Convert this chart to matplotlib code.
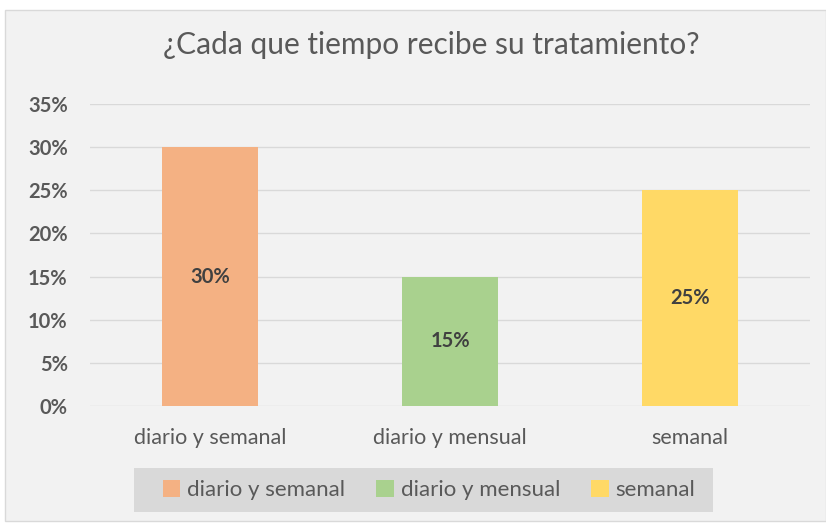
import matplotlib
matplotlib.use("Agg")
import matplotlib.pyplot as plt
from matplotlib.patches import Rectangle, Patch
from matplotlib.ticker import FuncFormatter

categories = ["diario y semanal", "diario y mensual", "semanal"]
values = [0.30, 0.15, 0.25]
colors = ["#F4B183", "#A9D18E", "#FFD966"]
yticks = [0, 0.05, 0.10, 0.15, 0.20, 0.25, 0.30, 0.35]
title = "¿Cada que tiempo recibe su tratamiento?"

plt.rcParams['font.family'] = ['Lato', 'DejaVu Sans']

W, H = 826, 523
fig = plt.figure(figsize=(W/100, H/100), dpi=100)
fig.patch.set_facecolor("white")
bg = Rectangle((5/W, 2/H), (W-5)/W, (H-12)/H, transform=fig.transFigure,
               facecolor="#F2F2F2", edgecolor="#D9D9D9", linewidth=1, zorder=-10)
fig.patches.append(bg)
legbox = Rectangle((134/W, (H-512)/H), (713-134)/W, 44/H, transform=fig.transFigure,
                   facecolor="#D9D9D9", edgecolor="none", zorder=-5)
fig.patches.append(legbox)

ax = fig.add_axes([90/W, (H-406)/H, 720/W, 302/H])
ax.set_facecolor("none")
x = range(len(categories))
bars = ax.bar(x, values, width=0.4, color=colors, zorder=3)
ax.set_xlim(-0.5, len(categories) - 0.5)
ax.set_ylim(0, 0.35)
ax.set_yticks(yticks)
ax.yaxis.set_major_formatter(FuncFormatter(lambda v, p: f"{v*100:.0f}%"))
ax.grid(axis="y", color="#D9D9D9", linewidth=1, zorder=0)
ax.set_axisbelow(True)
for s in ax.spines.values():
    s.set_visible(False)
ax.tick_params(axis="y", length=0, pad=16, labelsize=14.5, labelcolor="#595959")
for lbl in ax.get_yticklabels():
    lbl.set_fontweight("bold")
ax.set_xticks(list(x))
ax.set_xticklabels(categories)
ax.tick_params(axis="x", length=0, pad=16, labelsize=15.5, labelcolor="#595959")

for b, v in zip(bars, values):
    ax.text(b.get_x() + b.get_width()/2, v/2, f"{v*100:.0f}%", ha="center", va="center",
            fontsize=14.5, fontweight="bold", color="#404040", zorder=4)

fig.text(431.5 / W, (H - 45) / H, title, ha="center", va="center",
         fontsize=21.5, color="#595959")

handles = [Patch(facecolor=c, edgecolor="none") for c in colors]
leg = fig.legend(handles, categories, loc="center", bbox_to_anchor=(429/W, (H-490)/H),
                 ncol=3, frameon=False, fontsize=16, handlelength=0.8, handleheight=0.8,
                 handletextpad=0.3, columnspacing=1.4, borderpad=0, borderaxespad=0)
for t in leg.get_texts():
    t.set_color("#595959")

fig.savefig("out.png", dpi=100)
